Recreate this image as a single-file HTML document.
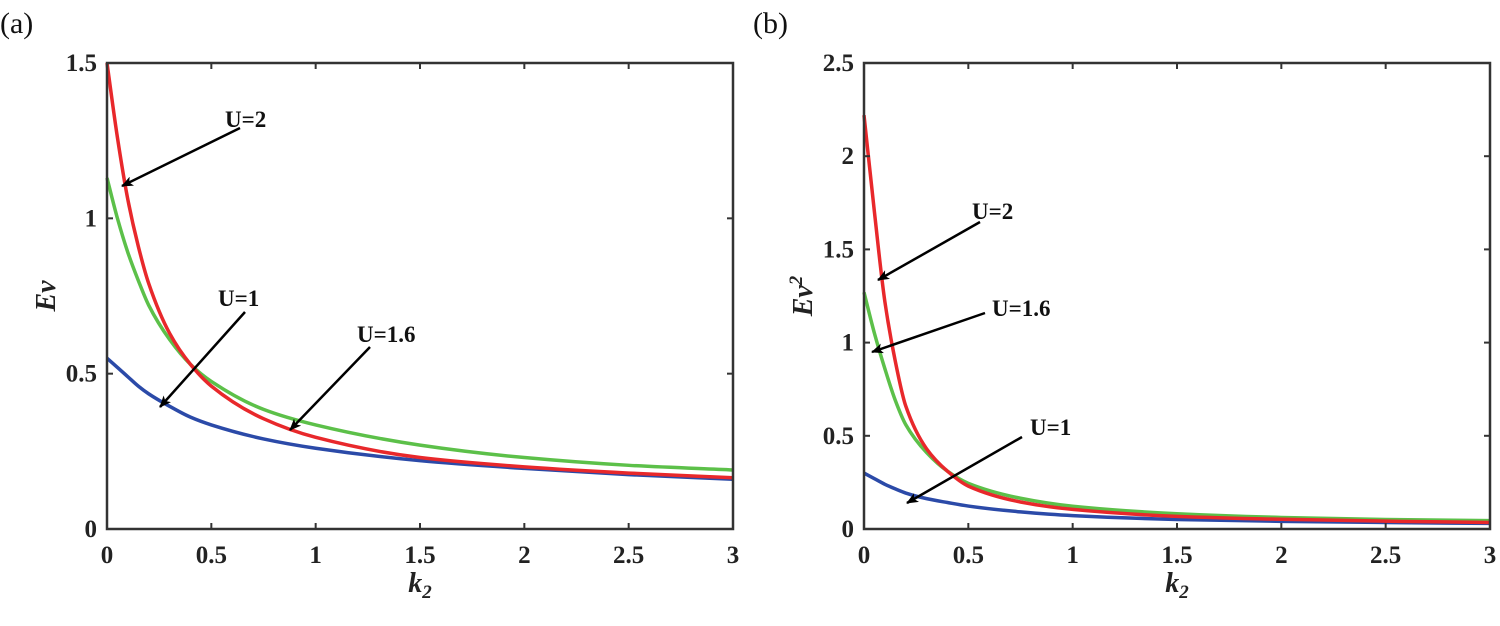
<!DOCTYPE html>
<html><head><meta charset="utf-8"><style>
body{margin:0;background:#fff}
svg text{font-family:"Liberation Serif",serif}
</style></head><body>
<svg id="c" width="1500" height="621"></svg>
<script>
const xs=[0,0.05,0.1,0.15,0.2,0.3,0.4,0.5,0.75,1,1.5,2,2.5,3];
const aRed=[1.5,1.26,1.06,0.91,0.79,0.63,0.53,0.46,0.355,0.295,0.23,0.2,0.18,0.165];
const aGreen=[1.13,1.0,0.89,0.8,0.72,0.61,0.53,0.475,0.385,0.335,0.27,0.23,0.205,0.19];
const aBlue=[0.55,0.52,0.49,0.46,0.435,0.395,0.36,0.335,0.29,0.26,0.22,0.195,0.175,0.16];
const bRed=[2.22,1.7,1.22,0.9,0.66,0.43,0.31,0.23,0.145,0.105,0.068,0.052,0.042,0.035];
const bGreen=[1.27,1.05,0.86,0.69,0.56,0.41,0.31,0.245,0.165,0.122,0.082,0.062,0.051,0.045];
const bBlue=[0.3,0.27,0.24,0.215,0.193,0.163,0.142,0.123,0.092,0.072,0.051,0.041,0.035,0.03];
const xTicks=[0,0.5,1,1.5,2,2.5,3];
const xTickLabels=["0","0.5","1","1.5","2","2.5","3"];
const aYTicks=[0,0.5,1,1.5];
const bYTicks=[0,0.5,1,1.5,2,2.5];
const NS="http://www.w3.org/2000/svg",svg=document.getElementById('c');
function el(t,a,p){const e=document.createElementNS(NS,t);for(const k in a)e.setAttribute(k,a[k]);(p||svg).appendChild(e);return e;}
function monotone(pts){const n=pts.length,dx=[],s=[],m=[];for(let i=0;i<n-1;i++){dx[i]=pts[i+1][0]-pts[i][0];s[i]=(pts[i+1][1]-pts[i][1])/dx[i];}
 m[0]=s[0];m[n-1]=s[n-2];for(let i=1;i<n-1;i++){if(s[i-1]*s[i]<=0)m[i]=0;else{const w1=2*dx[i]+dx[i-1],w2=dx[i]+2*dx[i-1];m[i]=(w1+w2)/(w1/s[i-1]+w2/s[i]);}}
 let d=`M${pts[0][0]},${pts[0][1]}`;for(let i=0;i<n-1;i++){const h=dx[i]/3;d+=`C${pts[i][0]+h},${pts[i][1]+m[i]*h} ${pts[i+1][0]-h},${pts[i+1][1]-m[i+1]*h} ${pts[i+1][0]},${pts[i+1][1]}`;}return d;}
el('defs',{}).innerHTML='<marker id="ah" markerWidth="12" markerHeight="10" refX="11" refY="5" orient="auto" markerUnits="userSpaceOnUse"><path d="M0,0L12,5L0,10L3,5Z" fill="#000"/></marker>';
function panel(name,L,R,T,B,ymax,yTicks,series,ylab,sup,notes){
 const g=el('g',{});
 const X=v=>L+v/3*(R-L),Y=v=>B-v/ymax*(B-T);
 series.forEach(([vals,col,nm])=>{const p=el('path',{d:monotone(xs.map((x,i)=>[X(x),Y(vals[i])])),fill:'none',stroke:col,'stroke-width':3.5},g);});
 const box=el('rect',{x:L,y:T,width:R-L,height:B-T,fill:'none',stroke:'#333','stroke-width':2.5},g);
 xTicks.forEach((t,i)=>{el('line',{x1:X(t),x2:X(t),y1:B,y2:B-6,stroke:'#333','stroke-width':2},g);el('line',{x1:X(t),x2:X(t),y1:T,y2:T+6,stroke:'#333','stroke-width':2},g);
  const tx=el('text',{x:X(t),y:B+34,'text-anchor':'middle','font-size':25,'font-weight':'bold',fill:'#222'},g);tx.textContent=xTickLabels[i];});
 yTicks.forEach(t=>{el('line',{x1:L,x2:L+6,y1:Y(t),y2:Y(t),stroke:'#333','stroke-width':2},g);el('line',{x1:R,x2:R-6,y1:Y(t),y2:Y(t),stroke:'#333','stroke-width':2},g);
  const tx=el('text',{x:L-10,y:Y(t)+8,'text-anchor':'end','font-size':25,'font-weight':'bold',fill:'#222'},g);tx.textContent=String(t);});
 const xl=el('text',{x:(L+R)/2,y:592,'text-anchor':'middle','font-size':28,'font-weight':'bold','font-style':'italic',fill:'#222'},g);xl.innerHTML='k<tspan font-size="19" dy="6">2</tspan>';
 const yl=el('text',{x:0,y:0,transform:`translate(${L-52},${(T+B)/2}) rotate(-90)`,'text-anchor':'middle','font-size':28,'font-weight':'bold','font-style':'italic',fill:'#222'},g);yl.innerHTML=ylab+(sup?'<tspan font-size="19" dy="-10">2</tspan>':'');
 notes.forEach(([txt,tx,ty,x1,y1,x2,y2])=>{const l=el('line',{x1,y1,x2,y2,stroke:'#000','stroke-width':2.5,'marker-end':'url(#ah)'},g);
  const t=el('text',{x:tx,y:ty,'font-size':23,'font-weight':'bold',fill:'#111'},g);t.textContent=txt;});
}
panel('panel-a',107,733,63,529,1.5,aYTicks,[[aBlue,'#2b4aa8','line-u1'],[aGreen,'#5cc049','line-u16'],[aRed,'#e8282b','line-u2']],'Ev',false,
 [['U=2',225,127,240,128,122,186],['U=1',218,306,245,312,160,407],['U=1.6',357,342,370,347,290,430]]);
panel('panel-b',864,1490,63,529,2.5,bYTicks,[[bBlue,'#2b4aa8','line-u1'],[bGreen,'#5cc049','line-u16'],[bRed,'#e8282b','line-u2']],'Ev',true,
 [['U=2',972,219,980,222,878,280],['U=1.6',992,316,985,313,872,352],['U=1',1030,435,1022,437,907,503]]);
[['(a)',0,33],['(b)',753,33]].forEach(([t,x,y])=>{const e=el('text',{x,y,'font-size':30,fill:'#111'});e.textContent=t;});
</script>
</body></html>
